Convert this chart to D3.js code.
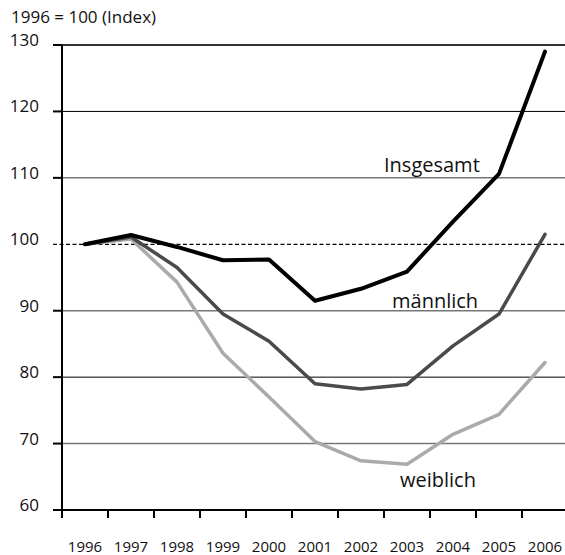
<!DOCTYPE html>
<html lang="de">
<head>
<meta charset="utf-8">
<title>Index 1996 = 100</title>
<script src="https://cdn.jsdelivr.net/npm/d3@7"></script>
<style>
  body { margin: 0; background: #fff; }
  text { font-family: "Open Sans", "Noto Sans", sans-serif; fill: #111; }
</style>
</head>
<body>
<div id="chart"></div>
<script>
var years = [1996, 1997, 1998, 1999, 2000, 2001, 2002, 2003, 2004, 2005, 2006];
var insgesamt = [100, 101.4, 99.6, 97.6, 97.7, 91.5, 93.3, 95.9, 103.4, 110.6, 129.0];
var maennlich = [100, 101.1, 96.5, 89.5, 85.4, 79.0, 78.2, 78.9, 84.7, 89.5, 101.5];
var weiblich  = [100, 100.8, 94.3, 83.6, 77.0, 70.3, 67.4, 66.9, 71.4, 74.4, 82.2];
var yTicks = [60, 70, 80, 90, 100, 110, 120, 130];

var width = 565, height = 555;

var svg = d3.select("#chart").append("svg")
    .attr("width", width)
    .attr("height", height);

var x = d3.scaleBand().domain(years).range([62, 568]);
var y = d3.scaleLinear().domain([60, 130]).range([510, 45]);

// grid lines, colour per level like the original
var gridStyle = {
  130: { c: "#333", w: 2 },
  120: { c: "#000", w: 1 },
  110: { c: "#777", w: 1.5 },
  100: { c: "#000", w: 1.3, dash: "4,2.5" },
  90:  { c: "#777", w: 1.5 },
  80:  { c: "#000", w: 1 },
  70:  { c: "#777", w: 1.5 }
};

svg.append("g").selectAll("line")
    .data(yTicks.filter(function(d) { return d > 60; }))
    .enter().append("line")
    .attr("x1", function(d) { return d == 100 ? 53 : 62; })
    .attr("x2", width)
    .attr("y1", function(d) { return y(d); })
    .attr("y2", function(d) { return y(d); })
    .attr("stroke", function(d) { return gridStyle[d].c; })
    .attr("stroke-width", function(d) { return gridStyle[d].w; })
    .attr("stroke-dasharray", function(d) { return gridStyle[d].dash || null; });

// y axis
var yAxis = svg.append("g");
yAxis.append("line")
    .attr("x1", 62).attr("x2", 62)
    .attr("y1", y(130)).attr("y2", 518)
    .attr("stroke", "#000").attr("stroke-width", 2);
yAxis.selectAll("line.tick")
    .data(yTicks.filter(function(d) { return d != 100; }))
    .enter().append("line")
    .attr("class", "tick")
    .attr("x1", 53).attr("x2", 62)
    .attr("y1", function(d) { return y(d); })
    .attr("y2", function(d) { return y(d); })
    .attr("stroke", "#000").attr("stroke-width", 2);
yAxis.selectAll("text")
    .data(yTicks)
    .enter().append("text")
    .attr("x", 39)
    .attr("y", function(d) { return y(d) + 1; })
    .attr("text-anchor", "end")
    .style("font-size", "17px")
    .text(function(d) { return d; });

// x axis
var xAxis = svg.append("g");
xAxis.append("line")
    .attr("x1", 53).attr("x2", width)
    .attr("y1", y(60)).attr("y2", y(60))
    .attr("stroke", "#000").attr("stroke-width", 2);
xAxis.selectAll("line.tick")
    .data(years)
    .enter().append("line")
    .attr("class", "tick")
    .attr("x1", function(d) { return x(d); })
    .attr("x2", function(d) { return x(d); })
    .attr("y1", y(60)).attr("y2", 518)
    .attr("stroke", "#000").attr("stroke-width", 2);
xAxis.selectAll("text")
    .data(years)
    .enter().append("text")
    .attr("x", function(d) { return x(d) + x.bandwidth() / 2; })
    .attr("y", 551.5)
    .attr("text-anchor", "middle")
    .style("font-size", "15px")
    .text(function(d) { return d; });

svg.append("text")
    .attr("x", 11).attr("y", 23)
    .style("font-size", "17px")
    .text("1996 = 100 (Index)");

// lines
var line = d3.line()
    .x(function(d, i) { return x(years[i]) + x.bandwidth() / 2; })
    .y(function(d) { return y(d); });

var series = [
  { name: "weiblich", values: weiblich, color: "#aaaaaa", w: 3.5 },
  { name: "männlich", values: maennlich, color: "#4a4a4a", w: 3.5 },
  { name: "Insgesamt", values: insgesamt, color: "#000000", w: 4 }
];

svg.append("g").selectAll("path")
    .data(series)
    .enter().append("path")
    .attr("d", function(d) { return line(d.values); })
    .attr("fill", "none")
    .attr("stroke", function(d) { return d.color; })
    .attr("stroke-width", function(d) { return d.w; })
    .attr("stroke-linejoin", "round")
    .attr("stroke-linecap", "round");

// series labels
var labels = [
  { t: "Insgesamt", x: 384, y: 172 },
  { t: "männlich", x: 392, y: 308 },
  { t: "weiblich", x: 400, y: 487 }
];
svg.append("g").selectAll("text")
    .data(labels)
    .enter().append("text")
    .attr("x", function(d) { return d.x; })
    .attr("y", function(d) { return d.y; })
    .style("font-size", "20px")
    .text(function(d) { return d.t; });
</script>
</body>
</html>
